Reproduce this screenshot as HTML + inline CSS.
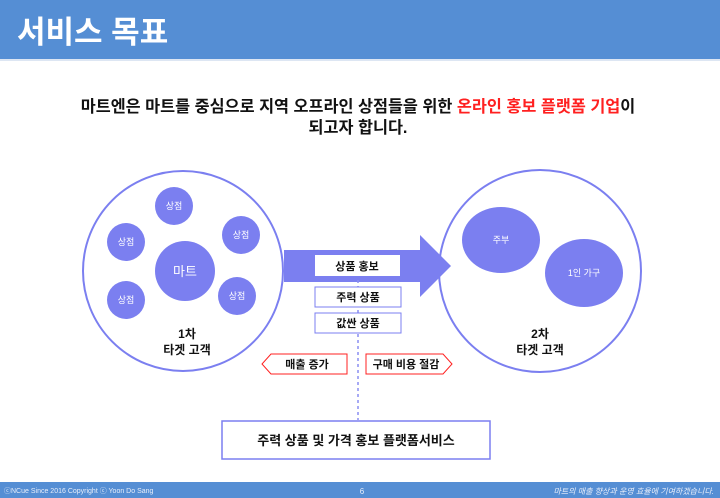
<!DOCTYPE html>
<html><head><meta charset="utf-8"><style>
html,body{margin:0;padding:0;background:#fff;}
svg{display:block;font-family:"Liberation Sans","Noto Sans CJK KR",sans-serif;}
</style></head><body>
<svg width="720" height="498" viewBox="0 0 720 498" xmlns="http://www.w3.org/2000/svg">
<rect x="0" y="0" width="720" height="59" fill="#558ed4"/>
<rect x="0" y="59" width="720" height="2" fill="#dde6f3"/>
<text x="17" y="43" font-size="31" font-weight="bold" fill="#fff">서비스 목표</text>

<text x="358" y="112" font-size="16.3" font-weight="bold" fill="#111" text-anchor="middle">마트엔은 마트를 중심으로 지역 오프라인 상점들을 위한 <tspan fill="#ff2020">온라인 홍보 플랫폼 기업</tspan>이</text>
<text x="358" y="133" font-size="16.3" font-weight="bold" fill="#111" text-anchor="middle">되고자 합니다.</text>

<circle cx="183" cy="271" r="100" fill="#fff" stroke="#7b7ff0" stroke-width="2"/>
<g fill="#7b7ff0">
<circle cx="174" cy="206" r="19"/><circle cx="126" cy="242" r="19"/>
<circle cx="241" cy="235" r="19"/><circle cx="126" cy="300" r="19"/>
<circle cx="237" cy="296" r="19"/><circle cx="185" cy="271" r="30"/>
</g>
<g fill="#fff" font-size="9" text-anchor="middle">
<text x="174" y="209">상점</text><text x="126" y="245">상점</text>
<text x="241" y="238">상점</text><text x="126" y="303">상점</text>
<text x="237" y="299">상점</text>
<text x="185" y="276" font-size="13">마트</text>
</g>
<text x="187" y="338" font-size="12" font-weight="bold" text-anchor="middle" fill="#111">1차</text>
<text x="187" y="354" font-size="12" font-weight="bold" text-anchor="middle" fill="#111">타겟 고객</text>

<circle cx="540" cy="271" r="101" fill="#fff" stroke="#7b7ff0" stroke-width="2"/>
<ellipse cx="501" cy="240" rx="39" ry="33" fill="#7b7ff0"/>
<ellipse cx="584" cy="273" rx="39" ry="34" fill="#7b7ff0"/>
<text x="501" y="243" font-size="9" fill="#fff" text-anchor="middle">주부</text>
<text x="584" y="276" font-size="9" fill="#fff" text-anchor="middle">1인 가구</text>
<text x="540" y="338" font-size="12" font-weight="bold" text-anchor="middle" fill="#111">2차</text>
<text x="540" y="354" font-size="12" font-weight="bold" text-anchor="middle" fill="#111">타겟 고객</text>

<polygon points="284,250 420,250 420,235 451,266 420,297 420,282 284,282" fill="#7b7ff0"/>
<line x1="358" y1="280" x2="358" y2="420" stroke="#8a8ef2" stroke-width="1.5" stroke-dasharray="3,3"/>
<rect x="315" y="255" width="85" height="21" fill="#fff"/>
<text x="357" y="270" font-size="11" font-weight="bold" text-anchor="middle" fill="#111">상품 홍보</text>
<rect x="315" y="287" width="86" height="20" fill="#fff" stroke="#7b7ff0" stroke-width="1"/>
<text x="358" y="301" font-size="11" font-weight="bold" text-anchor="middle" fill="#111">주력 상품</text>
<rect x="315" y="313" width="86" height="20" fill="#fff" stroke="#7b7ff0" stroke-width="1"/>
<text x="358" y="327" font-size="11" font-weight="bold" text-anchor="middle" fill="#111">값싼 상품</text>

<polygon points="347,354 347,374 271,374 262,364 271,354" fill="#fff" stroke="#ff2020" stroke-width="1"/>
<text x="307" y="368" font-size="11" font-weight="bold" text-anchor="middle" fill="#111">매출 증가</text>
<polygon points="366,354 443,354 452,364 443,374 366,374" fill="#fff" stroke="#ff2020" stroke-width="1"/>
<text x="406" y="368" font-size="11" font-weight="bold" text-anchor="middle" fill="#111">구매 비용 절감</text>

<rect x="222" y="421" width="268" height="38" fill="#fff" stroke="#7b7ff0" stroke-width="1.5"/>
<text x="356" y="445" font-size="13" font-weight="bold" text-anchor="middle" fill="#111">주력 상품 및 가격 홍보 플랫폼서비스</text>

<rect x="0" y="482" width="720" height="16" fill="#558ed4"/>
<text x="4" y="493" font-size="7" fill="#e8eefa">ⓒNCue  Since 2016  Copyright ⓒ Yoon Do Sang</text>
<text x="362" y="494" font-size="8" fill="#e8eefa" text-anchor="middle">6</text>
<text x="714" y="494" font-size="8" font-style="italic" fill="#e8eefa" text-anchor="end">마트의 매출 향상과 운영 효율에 기여하겠습니다.</text>
</svg>
</body></html>
